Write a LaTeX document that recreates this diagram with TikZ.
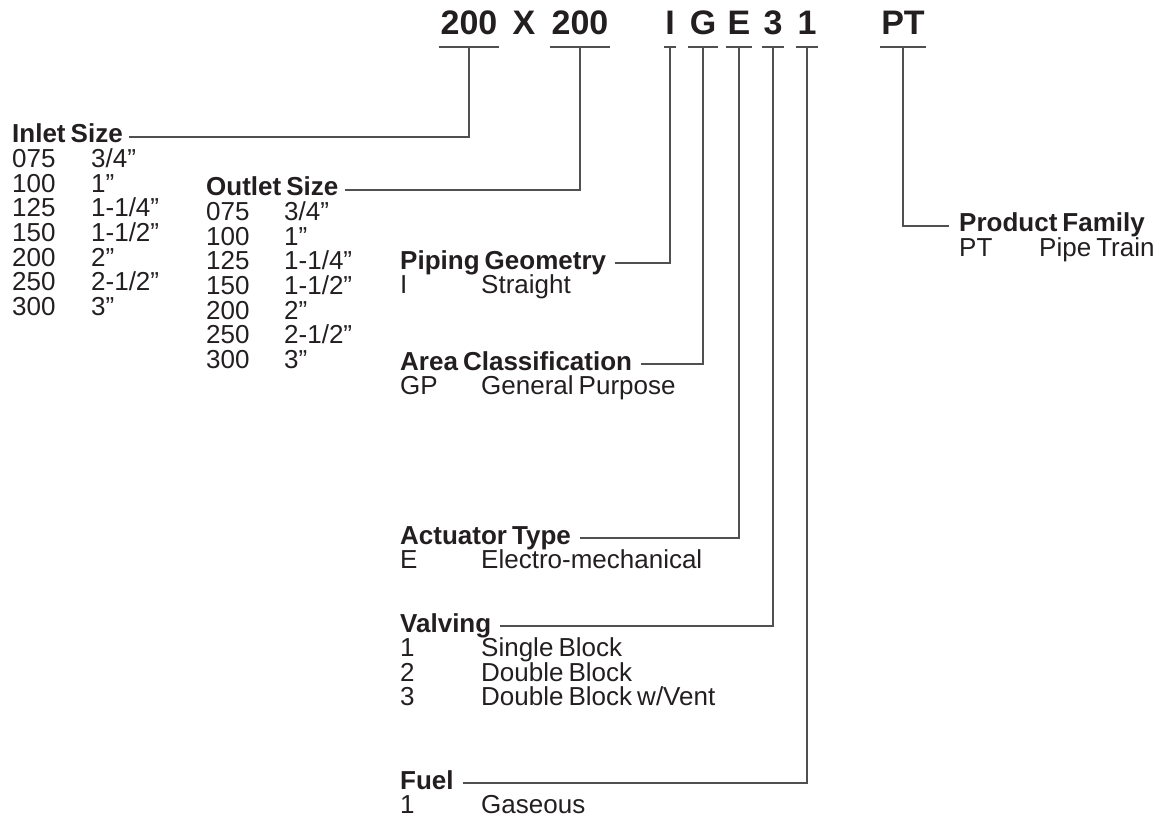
\documentclass[tikz,border=0pt]{standalone}
\usepackage{fontspec}
\setmainfont{Liberation Sans}[WordSpace=0.7]
\definecolor{ink}{RGB}{35,31,32}
\definecolor{wire}{RGB}{80,80,80}

\begin{document}
\begin{tikzpicture}[x=1pt,y=-1pt,
    code/.style={font=\fontsize{34}{34}\selectfont\bfseries,text=ink,inner sep=0pt,anchor=base},
    head/.style={font=\fontsize{26}{26}\selectfont\bfseries,text=ink,inner sep=0pt,anchor=base west},
    item/.style={font=\fontsize{26}{26}\selectfont,text=ink,inner sep=0pt,anchor=base west},
    link/.style={draw=wire,line width=1.1pt}]
    \useasboundingbox (0,0) rectangle (1156,829);

    \foreach \n/\t/\x in {a/200/469,x/X/524,b/200/580,g/I/670,c/G/703,e/E/739,v/3/773,f/1/807,p/PT/903} {
        \node[code] (k\n) at (\x,35) {\t};
    }
    \foreach \n in {a,b,g,c,e,v,f,p} {
        \draw[link] ([shift={(-1.5pt,-12pt)}]k\n.base west) -- coordinate (u\n) ([shift={(1.5pt,-12pt)}]k\n.base east);
    }

    \node[head] (inlet) at (12,143) {Inlet Size};
    \node[head] (outlet) at (206,196) {Outlet Size};
    \node[head] (piping) at (400,269) {Piping Geometry};
    \node[head] (area) at (400,370) {Area Classification};
    \node[head] (actuator) at (400,544) {Actuator Type};
    \node[head] (valving) at (400,632) {Valving};
    \node[head] (fuel) at (400,789) {Fuel};
    \node[head] (family) at (959,232) {Product Family};

    \foreach \c/\d [count=\i] in {075/{3/4”},100/1”,125/{1-1/4”},150/{1-1/2”},200/2”,250/{2-1/2”},300/3”} {
        \node[item] (inc\i) at (12,143+24.6*\i) {\c};
        \node[item] (ind\i) at (91,143+24.6*\i) {\d};
        \node[item] (outc\i) at (206,196+24.6*\i) {\c};
        \node[item] (outd\i) at (284,196+24.6*\i) {\d};
    }
    \foreach \c/\d/\y/\n in {I/Straight/293.6/pip,GP/General Purpose/394.6/are,E/Electro-mechanical/568.6/act,1/Gaseous/813.6/fue} {
        \node[item] (\n c) at (400,\y) {\c};
        \node[item] (\n d) at (481,\y) {\d};
    }
    \foreach \c/\d [count=\i] in {1/Single Block,2/Double Block,3/{Double Block w/Vent}} {
        \node[item] (valc\i) at (400,632+24.6*\i) {\c};
        \node[item] (vald\i) at (481,632+24.6*\i) {\d};
    }
    \node[item] (famc) at (959,256.6) {PT};
    \node[item] (famd) at (1039,256.6) {Pipe Train};

    \draw[link] (ua) |- ([shift={(6pt,6pt)}]inlet.base east);
    \draw[link] (ub) |- ([shift={(6pt,6pt)}]outlet.base east);
    \draw[link] (ug) |- ([shift={(9pt,6pt)}]piping.base east);
    \draw[link] (uc) |- ([shift={(9pt,6pt)}]area.base east);
    \draw[link] (ue) |- ([shift={(9pt,6pt)}]actuator.base east);
    \draw[link] (uv) |- ([shift={(9pt,6pt)}]valving.base east);
    \draw[link] (uf) |- ([shift={(9pt,6pt)}]fuel.base east);
    \draw[link] (up) |- ([shift={(-10pt,6pt)}]family.base west);
\end{tikzpicture}
\end{document}
